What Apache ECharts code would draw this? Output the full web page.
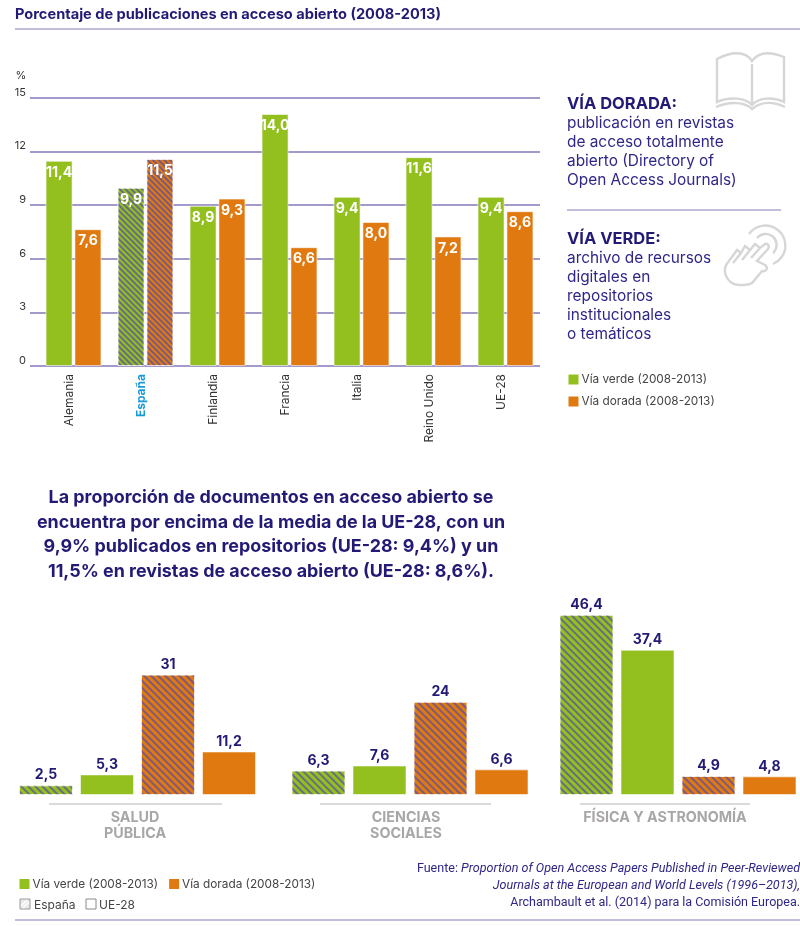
<!DOCTYPE html>
<html><head><meta charset="utf-8">
<style>html,body{margin:0;padding:0;background:#fff}#c{width:800px;height:926px}</style>
<script src="https://cdn.jsdelivr.net/npm/echarts@6/dist/echarts.min.js"></script>
</head><body><div id="c"></div>
<script>
const paises = ['Alemania','España','Finlandia','Francia','Italia','Reino Unido','UE-28'];
const viaVerde = [11.4,9.9,8.9,14.0,9.4,11.6,9.4];
const viaDorada = [7.6,11.5,9.3,6.6,8.0,7.2,8.6];
const tipos = ['Vía verde España','Vía verde UE-28','Vía dorada España','Vía dorada UE-28'];
const saludPublica = [2.5,5.3,31,11.2];
const cienciasSociales = [6.3,7.6,24,6.6];
const fisicaAstronomia = [46.4,37.4,4.9,4.8];

const NAVY='#221a75', BODY='#2f2788', GREEN='#93c01f', ORANGE='#e07a10', RULE='#c3bddb', GRID='#8578ba', GRAY='#a9a6a6';
const FONT='Inter, "Liberation Sans", sans-serif';
const mkDecal=(a,b)=>({symbol:'rect',symbolSize:1,dashArrayX:[1,0],dashArrayY:[a,b],rotation:Math.PI/4,color:'rgba(85,75,170,0.7)'});
const decalTop=mkDecal(1.5,2), decalBottom=mkDecal(1.2,2.8);
const edge='rgba(255,255,255,0.55)';
const coma=v=>String(v).replace('.',',');
const hatch=(v,c,d)=>{const s={color:c,borderColor:edge,borderWidth:1}; if(d) s.decal=d; return {value:v,itemStyle:s};};

const bottomGrids=[15.5,288,556].map(a=>({left:a,width:244,top:602,height:193}));
const bottomX=[1,2,3].map(i=>({type:'category',gridIndex:i+1,data:tipos,show:false}));
const bottomY=[1,2,3].map(i=>({type:'value',gridIndex:i+1,min:0,max:49.7,show:false}));
const bottomSeries=[saludPublica,cienciasSociales,fisicaAstronomia].map((arr,i)=>({
  type:'bar',name:['Salud pública','Ciencias sociales','Física y astronomía'][i],
  xAxisIndex:i+2,yAxisIndex:i+2,barWidth:54,
  data:arr.map((v,j)=>hatch(v,j<2?GREEN:ORANGE,j%2===0?decalBottom:null)),
  label:{show:true,position:'top',distance:3,formatter:p=>coma(p.value),color:NAVY,fontFamily:FONT,fontWeight:'bold',fontSize:14},
  silent:true
}));
const t=(x,y,text,o={})=>({type:'text',x,y,style:Object.assign({text,fontFamily:FONT,fontSize:15.4,fill:BODY,textVerticalAlign:'middle'},o)});
const ln=(x1,y1,x2,y2,c=RULE,w=2)=>({type:'line',shape:{x1,y1,x2,y2},style:{stroke:c,lineWidth:w}});

echarts.graphic.registerShape('bookIcon',echarts.graphic.extendPath('M717 59 C730 52 745 50 752 61 C760 50 772 52 784 57 L784 102 C772 96 758 98 752 105 C746 98 730 96 717 102 Z M752 64 L752 104 M716 107 C730 101 745 102 752 109 C760 102 772 101 785 107',{}));
echarts.graphic.registerShape('handIcon',echarts.graphic.extendPath('M749 234 A20 20 0 1 1 773 264 M757 238 A11 11 0 1 1 773 253 M741 285 C730 286 722 275 726 265 L737 250 L741 253 L745 246 L750 250 L755 244 L760 248 L765 244 C768 243 770 246 768 249 L757 261 L765 265 C769 268 766 272 762 271 L752 283 C749 285 745 285 741 285 M741 253 L733 263 M750 250 L742 260 M760 248 L751 258',{}));

const SRC='Roboto, Inter, sans-serif';
const graphicEls=[
  t(15,15,'Porcentaje de publicaciones en acceso abierto (2008-2013)',{fontWeight:'bold',fontSize:14.6,fill:NAVY}),
  ln(15,29,800,29), ln(15,920,800,920), ln(567,210,781,210),
  t(567,104.5,'VÍA DORADA:',{fontWeight:'bold',fontSize:16.5,fill:NAVY}),
  t(567,123.5,'publicación en revistas'),
  t(567,142.5,'de acceso totalmente'),
  t(567,161.5,'abierto (Directory of'),
  t(567,180.5,'Open Access Journals)'),
  t(567,239,'VÍA VERDE:',{fontWeight:'bold',fontSize:16.5,fill:NAVY}),
  t(567,258,'archivo de recursos'),
  t(567,277,'digitales en'),
  t(567,296,'repositorios'),
  t(567,315,'institucionales'),
  t(567,334,'o temáticos'),
  ...['La proporción de documentos en acceso abierto se','encuentra por encima de la media de la UE-28, con un','9,9% publicados en repositorios (UE-28: 9,4%) y un','11,5% en revistas de acceso abierto (UE-28: 8,6%).'].map((s,i)=>
    t(271,498+i*24.4,s,{fontWeight:'bold',fontSize:17.9,fill:NAVY,textAlign:'center'})),
  ln(49,804,222,804,'#cfcfcf',1.5), ln(320,804,491,804,'#cfcfcf',1.5), ln(580,804,750,804,'#cfcfcf',1.5),
  ...[[135,817.5,'SALUD'],[135,834,'PÚBLICA'],[406,817.5,'CIENCIAS'],[406,834,'SOCIALES'],[665,817.5,'FÍSICA Y ASTRONOMÍA']].map(a=>
    t(a[0],a[1],a[2],{fontWeight:'bold',fontSize:14.3,fill:GRAY,textAlign:'center'})),
  {type:'rect',shape:{x:20,y:899,width:10,height:10},style:{fill:'#e8e8e8',stroke:'#9a9a9a',lineWidth:1}},
  ln(21,906,27,900,'#ffffff',1.5), ln(23,908,29,902,'#ffffff',1.5),
  t(34,905,'España',{fontSize:12,fill:'#444'}),
  {type:'rect',shape:{x:86,y:899,width:10,height:10},style:{fill:'#fff',stroke:'#8a8a8a',lineWidth:1}},
  t(99,905,'UE-28',{fontSize:12,fill:'#444'}),
  {type:'text',x:800,y:869,style:{rich:{a:{fontFamily:SRC,fontSize:12.55,fill:BODY},i:{fontFamily:SRC,fontSize:12.55,fontStyle:'italic',fill:BODY}},text:'{a|Fuente: }{i|Proportion of Open Access Papers Published in Peer-Reviewed}',textAlign:'right',textVerticalAlign:'middle'}},
  t(800,886,'Journals at the European and World Levels (1996–2013),',{fontFamily:SRC,fontSize:12.55,fontStyle:'italic',textAlign:'right'}),
  t(800,903,'Archambault et al. (2014) para la Comisión Europea.',{fontFamily:SRC,fontSize:12.5,textAlign:'right'}),
  {type:'bookIcon',style:{fill:'none',stroke:'#d6d6d6',lineWidth:2.4}},
  {type:'handIcon',style:{fill:'none',stroke:'#d6d6d6',lineWidth:2.4}}
];

const legendText={fontFamily:FONT,fontSize:11.8,color:'#444',padding:[0,0,0,-2]};
const chart=echarts.init(document.getElementById('c'),null,{renderer:'canvas'});
chart.setOption({
  animation:false,backgroundColor:'#fff',textStyle:{fontFamily:FONT},
  grid:[{left:30,width:510,top:98,height:268},{left:37.5,width:504,top:98,height:268},...bottomGrids,{left:33.5,width:504,top:98,height:268}],
  legend:[
    {left:568.5,top:373.5,padding:0,orient:'vertical',itemGap:10,itemWidth:10,itemHeight:10,icon:'rect',textStyle:legendText,data:['Vía verde (2008-2013)','Vía dorada (2008-2013)'],selectedMode:false},
    {left:19.5,top:878,padding:0,orient:'horizontal',itemGap:11,itemWidth:10,itemHeight:10,icon:'rect',textStyle:legendText,data:['Vía verde (2008-2013)','Vía dorada (2008-2013)'],selectedMode:false}
  ],
  xAxis:[
    {type:'category',gridIndex:0,data:[],show:false},
    {type:'category',gridIndex:1,data:paises,show:false},
    ...bottomX,
    {type:'category',gridIndex:5,data:paises.map(p=>p==='España'?{value:p,textStyle:{color:'#1a9ad6',fontWeight:'bold'}}:p),
     axisLine:{show:false},axisTick:{show:false},
     axisLabel:{rotate:90,margin:8,interval:0,fontSize:12,color:'#333',fontFamily:FONT}}
  ],
  yAxis:[
    {type:'value',gridIndex:0,min:0,max:15,interval:3,name:'%',nameLocation:'end',nameGap:17,
     nameTextStyle:{fontSize:11,color:'#333',padding:[0,18,0,0]},
     axisLine:{show:false},axisTick:{show:false},
     splitLine:{lineStyle:{color:GRID,width:1.5}},
     axisLabel:{margin:4,fontSize:11,color:'#333',verticalAlign:'bottom',fontFamily:FONT}},
    {type:'value',gridIndex:1,min:0,max:14.89,show:false},
    ...bottomY,
    {type:'value',gridIndex:5,min:0,max:15,show:false}
  ],
  series:[
    {type:'bar',name:'Vía verde (2008-2013)',xAxisIndex:1,yAxisIndex:1,barWidth:27,barGap:'7%',itemStyle:{color:GREEN},z:3,silent:true,
     data:viaVerde.map((v,i)=>hatch(v,GREEN,paises[i]==='España'?decalTop:null)),
     label:{show:true,position:'insideTop',distance:5,formatter:p=>p.value.toFixed(1).replace('.',','),color:'#fff',fontFamily:FONT,fontWeight:'bold',fontSize:14}},
    {type:'bar',name:'Vía dorada (2008-2013)',xAxisIndex:1,yAxisIndex:1,barWidth:27,itemStyle:{color:ORANGE},z:3,silent:true,
     data:viaDorada.map((v,i)=>hatch(v,ORANGE,paises[i]==='España'?decalTop:null)),
     label:{show:true,position:'insideTop',distance:5,formatter:p=>p.value.toFixed(1).replace('.',','),color:'#fff',fontFamily:FONT,fontWeight:'bold',fontSize:14}},
    ...bottomSeries
  ],
  graphic:{elements:graphicEls}
});
</script></body></html>
